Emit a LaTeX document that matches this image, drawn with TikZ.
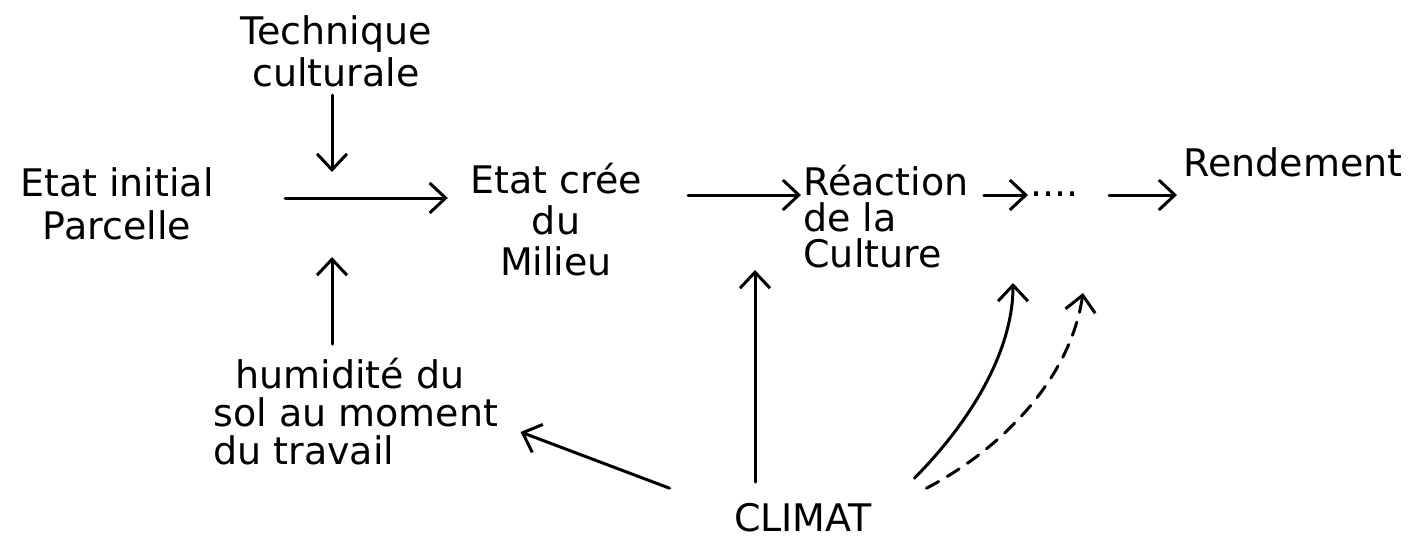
\documentclass[tikz,border=0pt]{standalone}
\usepackage{fontspec}
\setmainfont{DejaVu Sans}
\usetikzlibrary{arrows.meta}
\begin{document}
\begin{tikzpicture}[x=0.5pt,y=-0.5pt,
  lbl/.style={inner sep=0pt, font=\fontsize{19}{19}\selectfont},
  arr/.style={-{Straight Barb[length=8pt,width=15pt,line width=1.5pt]}, line width=1.5pt, line cap=round},
  dashedarr/.style={arr, dash pattern=on 7pt off 5pt}
  ]
\useasboundingbox (0,0) rectangle (1411,542);
% junction coordinates
\coordinate (jm) at (332,198);
\coordinate (jt) at (332,172);
\coordinate (jb) at (332,257);
\coordinate (row) at (0,195);
\coordinate (cv) at (755,270);
\coordinate (cs) at (1013,283);
\coordinate (cd) at (1083,293);
% nodes
\node[lbl, align=center, font=\fontsize{19}{21}\selectfont] (tech) at (336,51) {Technique\\culturale};
\node[lbl, align=center, font=\fontsize{19}{21.5}\selectfont] (init) at (117,204) {Etat initial\\Parcelle};
\node[lbl, align=center, font=\fontsize{19}{20.5}\selectfont] (cree) at (556,220) {Etat crée\\du\\Milieu};
\node[lbl, align=left, anchor=west, font=\fontsize{19}{18}\selectfont] (react) at (803,217) {Réaction\\de la\\Culture};
\node[lbl, anchor=base west] (dots) at (1030,196) {....};
\node[lbl, anchor=west] (rend) at (1183,162) {Rendement};
\node[lbl, align=left, anchor=west, font=\fontsize{19}{19}\selectfont] (hum) at (213,412) {\hspace*{11pt}humidité du\\sol au moment\\du travail};
\node[lbl] (climat) at (803,518) {CLIMAT};
% connectors
\draw[arr, shorten <=35.5pt, shorten >=11pt] (init.east |- jm) -- (cree.west |- jm);
\draw[arr, shorten <=4pt] (tech.south -| jt) -- (jt);
\draw[arr, shorten <=7pt] (hum.north -| jb) -- (jb);
\draw[arr, shorten <=23pt, shorten >=1pt] (cree.east |- row) -- (react.west |- row);
\draw[arr, shorten <=7.5pt, shorten >=1pt] (react.east |- row) -- (dots.west |- row);
\draw[arr, shorten <=15pt, shorten >=3pt] (dots.east |- row) -- (rend.west |- row);
\draw[arr] ([shift={(-64,-15)}]climat.north west) -- ([shift={(22,20)}]hum.east);
\draw[arr] ([shift={(0,-21)}]climat.north -| cv) -- (cv);
\draw[arr] ([shift={(42,-25)}]climat.north east) .. controls (972,420) and (1013,350) .. (cs);
\draw[dashedarr] ([shift={(54,-15)}]climat.north east) .. controls (1000,450) and (1070,380) .. (cd);
\end{tikzpicture}
\end{document}
